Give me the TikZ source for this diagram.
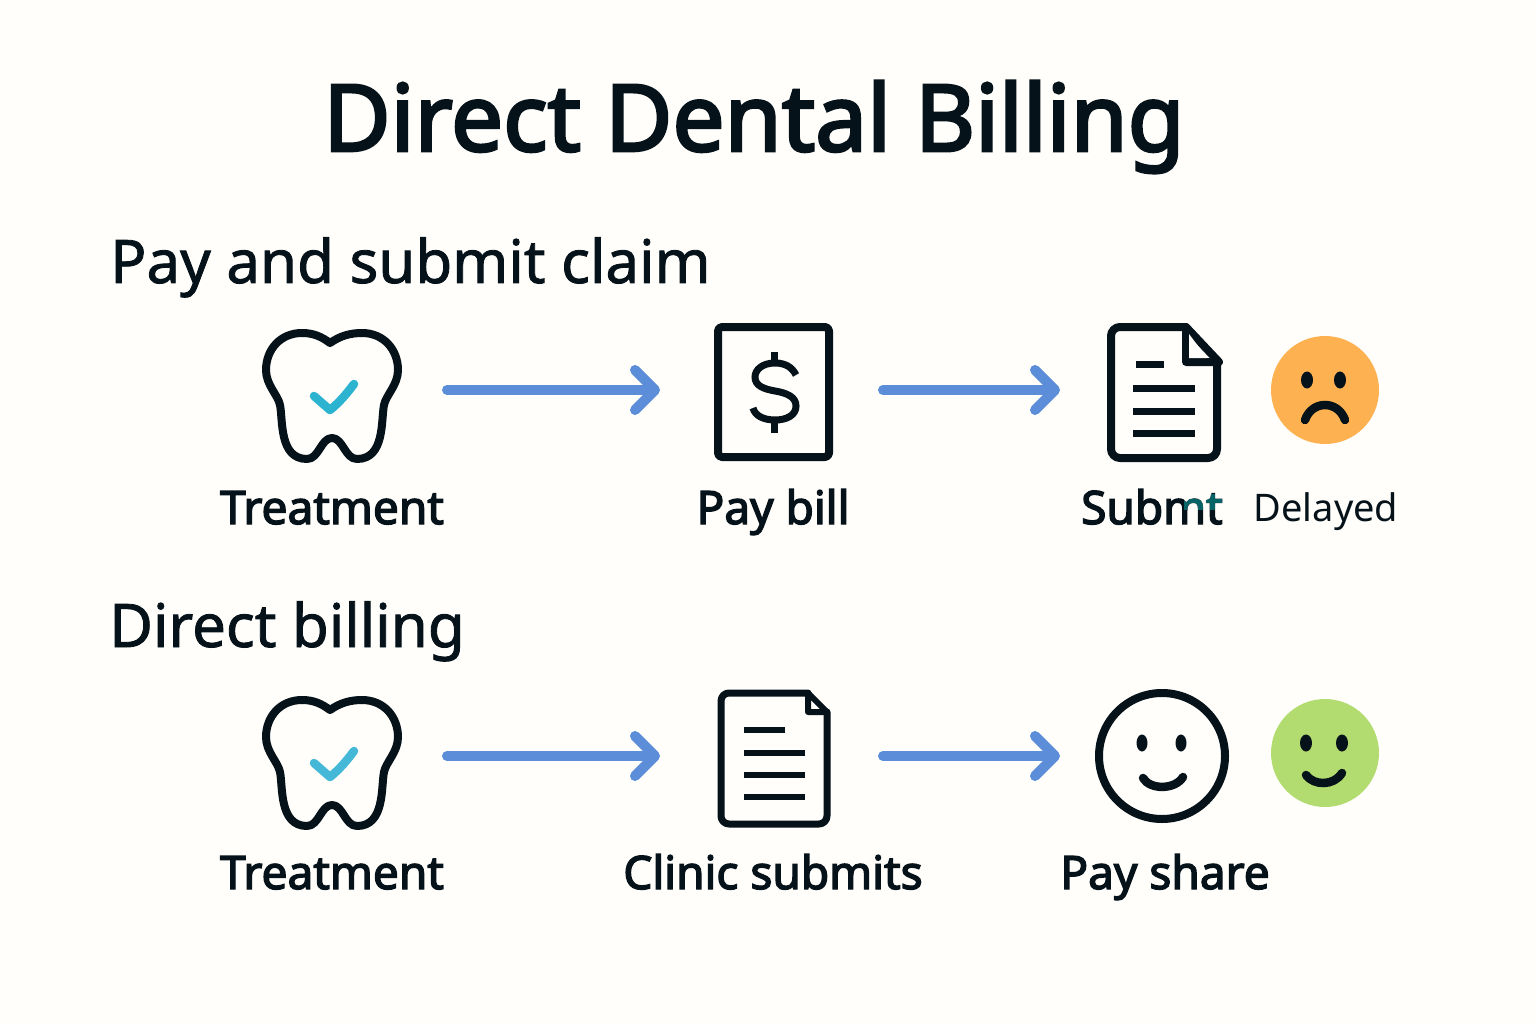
\documentclass[tikz,border=0pt]{standalone}
\usepackage{fontspec}
\setmainfont{Noto Sans}
\newfontfamily\medfont[FakeBold=3.0]{Noto Sans}
\newfontfamily\labfont[FakeBold=3.0]{Noto Sans}
\newfontfamily\subfont[FakeBold=1.4]{Noto Sans}
\usetikzlibrary{arrows.meta}
\definecolor{ink}{HTML}{06121A}
\definecolor{paper}{HTML}{FFFEFA}
\definecolor{flow}{HTML}{5B8DD9}
\definecolor{tealA}{HTML}{2BB3D0}
\definecolor{tealB}{HTML}{45B8D8}
\definecolor{sad}{HTML}{FDB150}
\definecolor{happy}{HTML}{B2DB70}
\tikzset{
  x=1pt,y=-1pt,
  icon/.style={draw=ink,line width=8,line join=round,line cap=round},
  flowarrow/.style={draw=flow,line width=10,line cap=round,-{Straight Barb[round,length=20,width=40,line width=10]}},
  titletext/.style={font=\medfont\fontsize{92.5}{96}\selectfont,text=ink,inner sep=0,anchor=base west},
  headtext/.style={font=\subfont\fontsize{60}{60}\selectfont,text=ink,inner sep=0,anchor=base west},
  labeltext/.style={font=\labfont\fontsize{46}{46}\selectfont,text=ink,inner sep=0,anchor=base},
  plaintext/.style={font=\fontsize{38}{38}\selectfont,text=ink,inner sep=0,anchor=base},
  facefeature/.style={fill=ink},
  smileline/.style={draw=ink,line width=8.5,line cap=round},
  docline/.style={draw=ink,line width=7},
  tooth/.pic={
    \draw[icon] (330,343) .. controls (340,336) and (350,333) .. (362,333)
      .. controls (384,333) and (398,350) .. (398,370)
      .. controls (398,385) and (386,395) .. (384,405)
      .. controls (381,420) and (385,459) .. (357,459)
      .. controls (345,459) and (343,438) .. (332,438)
      .. controls (321,438) and (319,459) .. (307,459)
      .. controls (279,459) and (283,420) .. (280,405)
      .. controls (278,395) and (266,385) .. (266,370)
      .. controls (266,350) and (280,333) .. (302,333)
      .. controls (314,333) and (322,337) .. (330,343) -- cycle;
    \draw[draw=#1,line width=8.5,line cap=round,line join=round] (314,396) -- (330,410) .. controls (340,402) and (348,392) .. (354,384);
  }
}
\begin{document}
\begin{tikzpicture}
\useasboundingbox (0,0) rectangle (1536,1024);
\fill[paper] (0,0) rectangle (1536,1024);
\node[titletext] (title) at (323,151) {Direct Dental Billing};
\node[headtext] (headA) at (110,283) {Pay and submit claim};
\node[headtext] (headB) at (109,647) {Direct billing};

% row 1
\pic at (0,0) {tooth=tealA};
\node[labeltext] (treatA) at (332,524) {Treatment};
\draw[icon,rounded corners=4] (718,327) rectangle (829,457);
\draw[ink,line width=7] (796,375) .. controls (792,367) and (785,363) .. (775,363)
  .. controls (762,363) and (755,370) .. (755,377)
  .. controls (755,386) and (764,389) .. (775,391)
  .. controls (787,393) and (796,397) .. (796,406)
  .. controls (796,415) and (787,420) .. (775,420)
  .. controls (764,420) and (755,416) .. (753,408);
\draw[ink,line width=7] (774,352) -- (774,363) (774,420) -- (774,433);
\node[labeltext] (payA) at (773,524) {Pay bill};
\draw[icon,rounded corners=9] (1186,327) -- (1111,327) -- (1111,458) -- (1217,458) -- (1217,362);
\draw[icon] (1186,327) -- (1219,362) -- (1186,362) -- cycle;
\fill[paper] (1189,334) -- (1207,358) -- (1189,358) -- cycle;
\draw[docline] (1136,364) -- (1164,364);
\draw[docline] (1133,388) -- (1195,388) (1133,411) -- (1195,411) (1133,433) -- (1195,433);
\node[labeltext] (submit) at (1152,524) {Submt};
\begin{scope}[blend mode=lighten]
\fill[teal!75!ink] (1184,494) rectangle (1224,510);
\end{scope}
\fill[sad] (1325,390) circle (54);
\fill[facefeature] (1307,380) ellipse (6 and 8.5) (1340,380) ellipse (6 and 8.5);
\draw[smileline] (1305,420) .. controls (1312,400) and (1338,400) .. (1345,420);
\node[plaintext] (delayed) at (1326,521) {Delayed};

% row 2
\pic at (0,367) {tooth=tealB};
\node[labeltext] (treatB) at (332,889) {Treatment};
\draw[icon,line width=7,rounded corners=8] (808,693) -- (721,693) -- (721,824) -- (827,824) -- (827,712);
\draw[icon,line width=6] (808,693) -- (827,712) -- (808,712) -- cycle;
\draw[docline,line width=6.5] (744,730) -- (785,730);
\draw[docline,line width=6.5] (744,753) -- (805,753) (744,775) -- (805,775) (744,797) -- (805,797);
\node[labeltext] (clinic) at (773,889) {Clinic submits};
\draw[icon] (1162,756) circle (63);
\fill[facefeature] (1142,743) ellipse (5.5 and 8.5) (1181,743) ellipse (5.5 and 8.5);
\draw[smileline] (1143,778) .. controls (1150,790) and (1175,790) .. (1183,777);
\node[labeltext] (share) at (1165,889) {Pay share};
\fill[happy] (1325,753) circle (54);
\fill[facefeature] (1306,743) ellipse (6 and 8.5) (1342,743) ellipse (6 and 8.5);
\draw[smileline] (1306,775) .. controls (1314,786) and (1334,786) .. (1342,773);

% connectors
\coordinate (a1) at (447,390); \coordinate (a2) at (660,390);
\coordinate (a3) at (883,390); \coordinate (a4) at (1060,390);
\coordinate (b1) at (447,756); \coordinate (b2) at (660,756);
\coordinate (b3) at (883,756); \coordinate (b4) at (1060,756);
\draw[flowarrow] (a1) -- (a2);
\draw[flowarrow] (a3) -- (a4);
\draw[flowarrow] (b1) -- (b2);
\draw[flowarrow] (b3) -- (b4);
\end{tikzpicture}
\end{document}
